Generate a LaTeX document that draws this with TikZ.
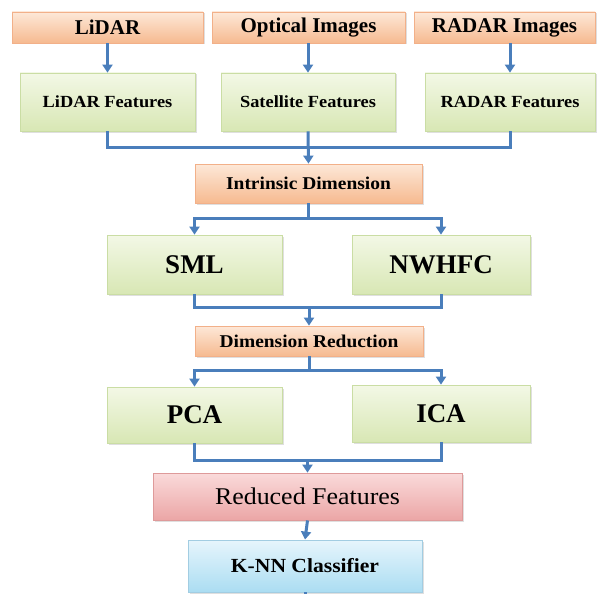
\documentclass[tikz,border=0pt]{standalone}
\usepackage{fontspec}
\setmainfont{Liberation Serif}
\newfontfamily\widefont[FakeStretch=1.08]{Liberation Serif}
\usetikzlibrary{arrows.meta,shadows}

\definecolor{flow}{HTML}{4A7EBB}
\definecolor{orTop}{HTML}{FDE8D8}
\definecolor{orBot}{HTML}{F6BA90}
\definecolor{orLine}{HTML}{F2B089}
\definecolor{grTop}{HTML}{F3F8E6}
\definecolor{grBot}{HTML}{D8E7B4}
\definecolor{grLine}{HTML}{CADDA4}
\definecolor{rdTop}{HTML}{FADADA}
\definecolor{rdBot}{HTML}{EBA6A6}
\definecolor{rdLine}{HTML}{DE9A9A}
\definecolor{blTop}{HTML}{E6F5FC}
\definecolor{blBot}{HTML}{ABDDF2}
\definecolor{blLine}{HTML}{A2CDE2}

\tikzset{
  box/.style={rectangle, inner sep=0pt, line width=0.8pt, align=center,
    drop shadow={shadow xshift=1.5pt, shadow yshift=-1.5pt, opacity=0.25}},
  orangebox/.style={box, draw=orLine, top color=orTop, bottom color=orBot},
  greenbox/.style={box, draw=grLine, top color=grTop, bottom color=grBot},
  redbox/.style={box, draw=rdLine, top color=rdTop, bottom color=rdBot},
  bluebox/.style={box, draw=blLine, top color=blTop, bottom color=blBot},
  link/.style={draw=flow, line width=3pt},
  arr/.style={link, -{Triangle[width=10pt,length=8pt]}},
}

\begin{document}
\begin{tikzpicture}[x=1pt,y=-1pt]
\useasboundingbox (0,0) rectangle (597,594);

% sources
\node[orangebox, minimum width=191pt, minimum height=31pt, font=\bfseries\fontsize{21}{24}\selectfont]
  (lidar) at (107.5,27.5) {LiDAR};
\node[orangebox, minimum width=193pt, minimum height=31pt, font=\bfseries\fontsize{21}{24}\selectfont]
  (optical) at (308.5,27.5) {Optical Images};
\node[orangebox, minimum width=181pt, minimum height=31pt, font=\bfseries\fontsize{21}{24}\selectfont]
  (radar) at (504.5,27.5) {RADAR Images};

% extracted features
\node[greenbox, minimum width=175pt, minimum height=58pt, font=\widefont\bfseries\fontsize{17}{20}\selectfont]
  (lidarf) at (107.5,102) {LiDAR Features};
\node[greenbox, minimum width=174pt, minimum height=58pt, font=\widefont\bfseries\fontsize{17}{20}\selectfont]
  (satf) at (308,102) {Satellite Features};
\node[greenbox, minimum width=170pt, minimum height=58pt, font=\widefont\bfseries\fontsize{17}{20}\selectfont]
  (radarf) at (510,102) {RADAR Features};

% intrinsic dimension estimation
\node[orangebox, minimum width=227pt, minimum height=39pt, font=\widefont\bfseries\fontsize{18}{21}\selectfont]
  (intr) at (308.5,183.5) {Intrinsic Dimension};
\node[greenbox, minimum width=175pt, minimum height=59pt, font=\bfseries\fontsize{27}{30}\selectfont]
  (sml) at (194.5,264.5) {SML};
\node[greenbox, minimum width=178pt, minimum height=59pt, font=\bfseries\fontsize{27}{30}\selectfont]
  (nwhfc) at (441,264.5) {NWHFC};

% dimension reduction
\node[orangebox, minimum width=228pt, minimum height=30pt, font=\widefont\bfseries\fontsize{18}{21}\selectfont]
  (dimred) at (309,341) {Dimension Reduction};
\node[greenbox, minimum width=175pt, minimum height=56pt, font=\bfseries\fontsize{27}{30}\selectfont]
  (pca) at (194.5,415) {PCA};
\node[greenbox, minimum width=178pt, minimum height=57pt, font=\bfseries\fontsize{27}{30}\selectfont]
  (ica) at (441,413.5) {ICA};

% classification
\node[redbox, minimum width=309pt, minimum height=47pt, font=\widefont\fontsize{24}{27}\selectfont]
  (reduced) at (307.5,496.5) {Reduced Features};
\node[bluebox, minimum width=234pt, minimum height=52pt, font=\widefont\bfseries\fontsize{20}{23}\selectfont]
  (knn) at (305,566) {K-NN Classifier};
\coordinate (out) at (305,594);

% sources to features
\draw[arr] (lidar.south) -- (lidarf.north);
\draw[arr] (optical.south -| satf.north) -- (satf.north);
\draw[arr] (radar.south -| radarf.north) -- (radarf.north);

% features merged into intrinsic dimension
\draw[link] (lidarf.south) -- ++(0,16) -| (radarf.south);
\draw[arr] (satf.south) -- (intr.north);

% intrinsic dimension split into SML / NWHFC
\draw[link] (intr.south) -- ++(0,15) coordinate (splitA);
\draw[arr] (splitA) -| (sml.north);
\draw[arr] (splitA) -| (nwhfc.north);

% SML / NWHFC merged into dimension reduction
\draw[link] (sml.south) -- ++(0,13) -| (nwhfc.south);
\draw[arr] (dimred.north |- 0,307) -- (dimred.north);

% dimension reduction split into PCA / ICA
\draw[link] (dimred.south) -- ++(0,14) coordinate (splitB);
\draw[arr] (splitB) -| (pca.north);
\draw[arr] (splitB) -| (ica.north);

% PCA / ICA merged into reduced features
\draw[link] (pca.south) -- ++(0,17) -| (ica.south);
\draw[arr] (reduced.north |- 0,460) -- (reduced.north);

% reduced features to classifier
\draw[arr] (reduced.south) -- (knn.north);
\draw[link] (knn.south) -- (out);
\end{tikzpicture}
\end{document}
